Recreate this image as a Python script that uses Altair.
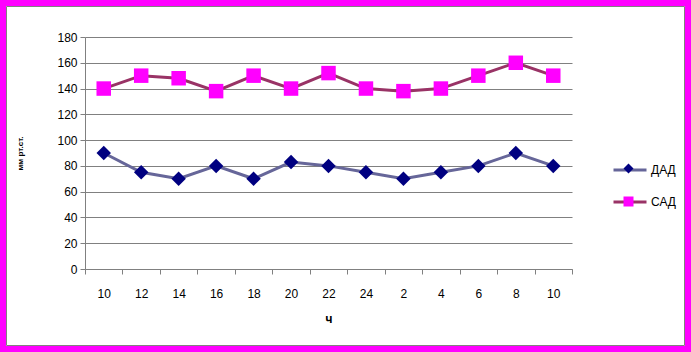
import altair as alt
import pandas as pd

hours = ['10', '12', '14', '16', '18', '20', '22', '24', '2', '4', '6', '8', '10']
dad = [90, 75, 70, 80, 70, 83, 80, 75, 70, 75, 80, 90, 80]
sad = [140, 150, 148, 138, 150, 140, 152, 140, 138, 140, 150, 160, 150]
series_names = ['ДАД', 'САД']
line_colors = ['#666699', '#993366']
marker_colors = ['#000080', '#FF00FF']
marker_shapes = ['diamond', 'square']

rows = []
for i in range(len(hours)):
    rows.append({'i': i, 'series': 'ДАД', 'm': 'ДАД', 'v': dad[i]})
    rows.append({'i': i, 'series': 'САД', 'm': 'САД', 'v': sad[i]})
df = pd.DataFrame(rows)

label_expr = "[" + ",".join("'%s'" % h for h in hours) + "][datum.value]"

FONT = 'Liberation Sans'

x_enc = alt.X('i:O', scale=alt.Scale(type='band', paddingInner=0, paddingOuter=0),
              axis=alt.Axis(title='ч', labelExpr=label_expr, labelAngle=0, tickBand='extent',
                            tickSize=5, labelPadding=14, titlePadding=14, titleFontWeight='bold',
                            titleFontSize=12, domainColor='#808080', tickColor='#808080',
                            labelFontSize=12, labelColor='black', titleColor='black',
                            labelFont=FONT, titleFont=FONT, grid=False))
y_enc = alt.Y('v:Q', scale=alt.Scale(domain=[0, 180], nice=False),
              axis=alt.Axis(title='мм рт.ст.', values=list(range(0, 181, 20)), tickSize=5,
                            labelPadding=3, titlePadding=32, titleFontSize=8, titleFontWeight='bold',
                            domainColor='#808080', tickColor='#808080', gridColor='#808080',
                            grid=True, labelFontSize=12, labelColor='black', titleColor='black',
                            labelFont=FONT, titleFont=FONT))

lines = alt.Chart(df).mark_line(strokeWidth=3).encode(
    x=x_enc, y=y_enc,
    stroke=alt.Stroke('series:N', scale=alt.Scale(domain=series_names, range=line_colors),
                      legend=alt.Legend(title=None, orient='none', legendX=527, legendY=115,
                                        symbolType='stroke', symbolSize=1089, symbolStrokeWidth=3,
                                        rowPadding=8, labelOffset=3, labelFontSize=12,
                                        labelFont=FONT, labelColor='black', padding=0)),
    detail='series:N',
)

points = alt.Chart(df).mark_point(filled=True, opacity=1, size=210, strokeWidth=0).encode(
    x=x_enc, y=y_enc,
    fill=alt.Fill('m:N', scale=alt.Scale(range=marker_colors),
                  legend=alt.Legend(title=None, orient='none', legendX=538.5, legendY=126.5,
                                    symbolSize=100, symbolStrokeWidth=0, rowPadding=23,
                                    labelFontSize=1, labelOpacity=0, padding=0)),
    shape=alt.Shape('m:N', scale=alt.Scale(range=marker_shapes),
                    legend=alt.Legend(title=None, orient='none', legendX=538.5, legendY=126.5,
                                      symbolSize=100, symbolStrokeWidth=0, rowPadding=23,
                                      labelFontSize=1, labelOpacity=0, padding=0)),
)

frame_df = pd.DataFrame({'a': [0]})
outer = alt.Chart(frame_df).mark_rect(fill='white', fillOpacity=0, stroke='#FF00FF', strokeWidth=6).encode(
    x=alt.value(-82), x2=alt.value(603), y=alt.value(-34), y2=alt.value(312))
inner = alt.Chart(frame_df).mark_rect(fillOpacity=0, stroke='#808080', strokeWidth=1).encode(
    x=alt.value(-78.5), x2=alt.value(599.5), y=alt.value(-30.5), y2=alt.value(308.5))

chart = alt.layer(lines, points, outer, inner).properties(
    width=487, height=232,
    autosize=alt.AutoSizeParams(type='none'),
    padding={'left': 85, 'top': 37, 'right': 119, 'bottom': 83},
    background='white',
).configure_view(stroke=None)

chart.save('out.html', embed_options={'renderer': 'svg', 'actions': False})
